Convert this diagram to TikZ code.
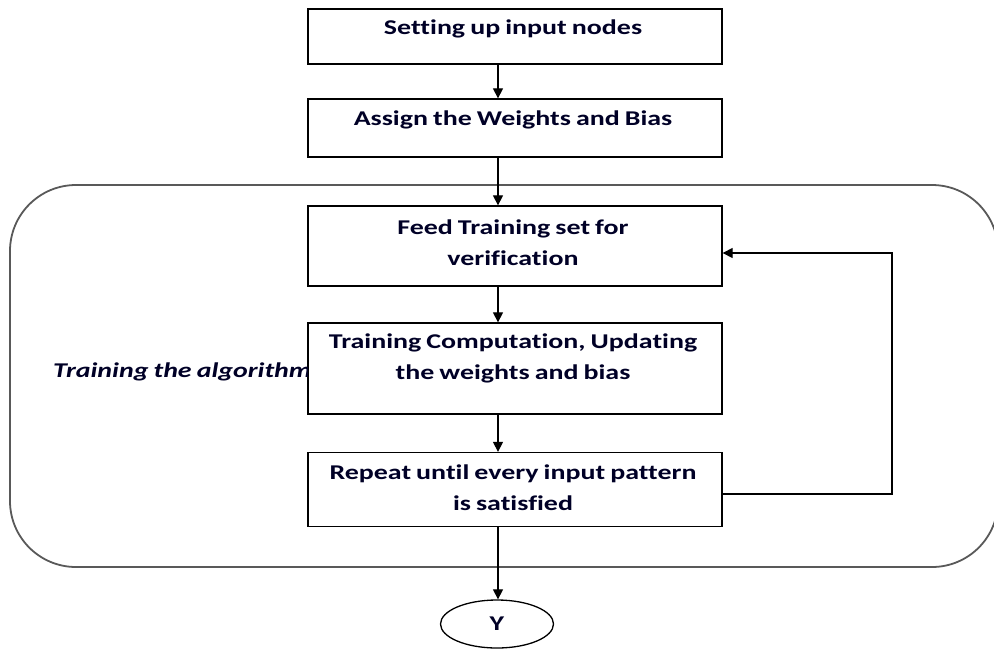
\documentclass[tikz,border=0pt]{standalone}
\usepackage{fontspec}
\setmainfont{Carlito}[FakeStretch=1.33, Ligatures={NoCommon}, WordSpace={0.8,0.5,0.5}]
\usetikzlibrary{arrows.meta,shapes.geometric}
\tikzset{
  stepbox/.style={draw=black, line width=1.3pt, minimum width=414pt, inner sep=0pt},
  boxtext/.style={font=\bfseries\fontsize{21}{31}\selectfont, align=center, text=black!85!blue},
  conn/.style={draw=black, line width=1.2pt, -{Triangle[length=10pt,width=10pt]}},
  frame/.style={draw=black!65, line width=1.8pt, rounded corners=66pt},
}
\begin{document}
\begin{tikzpicture}[x=1pt,y=-1pt]
\useasboundingbox (0,0) rectangle (994,649);
% training frame
\draw[frame] (10,185) rectangle (998,567);
% boxes
\node[stepbox, minimum height=55pt] (b1) at (515,36.5) {};
\node[stepbox, minimum height=58pt] (b2) at (515,128) {};
\node[stepbox, minimum height=80pt] (b3) at (515,246) {};
\node[stepbox, minimum height=91pt] (b4) at (515,368.5) {};
\node[stepbox, minimum height=74pt] (b5) at (515,489.5) {};
\node[draw=black, line width=1.3pt, ellipse, minimum width=113pt, minimum height=48pt, inner sep=0pt] (y) at (497,624) {};
% texts
\node[boxtext] (t1) at (513,29) {Setting up input nodes};
\node[boxtext] (t2) at (513,120) {Assign the Weights and Bias};
\node[boxtext] (t3) at (513,243) {Feed Training set for\\verification};
\node[boxtext] (t4) at (513,358) {Training Computation, Updating\\the weights and bias};
\node[boxtext] (t5) at (513,488) {Repeat until every input pattern\\is satisfied};
\node[boxtext] (ty) at (y) {Y};
% side label
\begin{scope}
\clip (0,300) rectangle (b4.north west |- 0,430);
\node[font=\bfseries\itshape\fontsize{21}{25}\selectfont, text=black!85!blue, anchor=west, inner sep=0pt] (lab) at (53,372) {Training the algorithm};
\end{scope}
% connectors
\draw[conn] (b1.south -| 498,0) -- (b2.north -| 498,0);
\draw[conn] (b2.south -| 498,0) -- (b3.north -| 498,0);
\draw[conn] (b3.south -| 498,0) -- (b4.north -| 498,0);
\draw[conn] (b4.south -| 498,0) -- (b5.north -| 498,0);
\draw[conn] (b5.south -| 498,0) -- (y.north -| 498,0);
\coordinate (fb1) at (892,494);
\coordinate (fb2) at (892,253);
\draw[conn] (b5.east |- fb1) -- (fb1) -- (fb2) -- (b3.east |- fb2);
\end{tikzpicture}
\end{document}
